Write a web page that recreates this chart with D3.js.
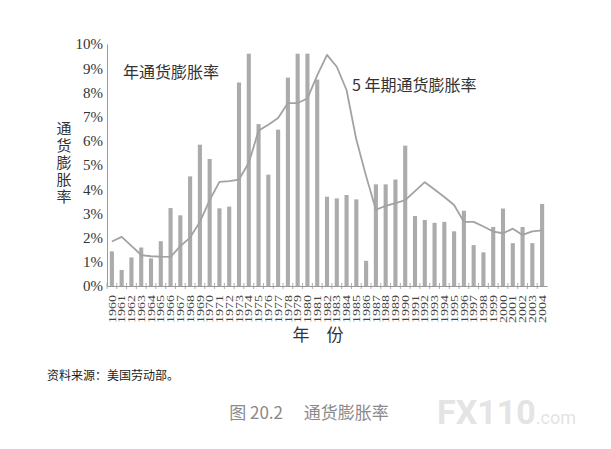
<!DOCTYPE html>
<html>
<head>
<meta charset="utf-8">
<script src="https://cdn.jsdelivr.net/npm/d3@7"></script>
<style>
  body { margin: 0; background: #fff; }
  svg { display: block; }
</style>
</head>
<body>
<svg id="chart"></svg>
<script>
var years = [1960,1961,1962,1963,1964,1965,1966,1967,1968,1969,
             1970,1971,1972,1973,1974,1975,1976,1977,1978,1979,
             1980,1981,1982,1983,1984,1985,1986,1987,1988,1989,
             1990,1991,1992,1993,1994,1995,1996,1997,1998,1999,
             2000,2001,2002,2003,2004]

// annual inflation, % (bars above ~9.6% are cut off in the picture)
var annual = [1.43,0.66,1.18,1.59,1.14,1.85,3.22,2.92,4.53,5.84,
              5.25,3.21,3.28,8.41,9.6,6.69,4.6,6.46,8.61,9.6,
              9.6,8.53,3.69,3.62,3.76,3.58,1.04,4.2,4.2,4.4,
              5.8,2.89,2.73,2.61,2.65,2.26,3.11,1.69,1.39,2.44,
              3.2,1.77,2.44,1.77,3.39]

// 5-year inflation, %
var fiveYear = [1.84,2.03,1.66,1.28,1.23,1.21,1.2,1.65,2.0,2.65,
                3.55,4.3,4.33,4.4,5.09,6.42,6.66,6.94,7.56,7.56,
                7.75,8.7,9.55,9.06,8.1,6.05,4.54,3.15,3.31,3.42,
                3.55,3.92,4.29,3.99,3.68,3.35,2.65,2.65,2.46,2.25,
                2.18,2.37,2.11,2.26,2.3]

var yTicks = [0,1,2,3,4,5,6,7,8,9,10]

var dimensions = {
    width: 611,
    height: 449,
    margin: { top: 44, bottom: 163, left: 107, right: 64 }
}

var svg = d3.select("#chart")
            .attr("width", dimensions.width)
            .attr("height", dimensions.height)

var xScale = d3.scaleBand()
               .domain(years)
               .range([dimensions.margin.left, dimensions.width - dimensions.margin.right])
               .paddingInner(0.58)
               .paddingOuter(0.29)

var yScale = d3.scaleLinear()
               .domain([0, 10])
               .range([dimensions.height - dimensions.margin.bottom, dimensions.margin.top])

var baseY = yScale(0)

// bars
svg.append("g")
   .selectAll("rect")
   .data(annual)
   .enter()
   .append("rect")
   .attr("x", (d, i) => xScale(years[i]))
   .attr("y", d => yScale(d))
   .attr("width", xScale.bandwidth())
   .attr("height", d => baseY - yScale(d))
   .attr("fill", "#ababab")

// 5-year line
var lineGen = d3.line()
                .x((d, i) => xScale(years[i]) + xScale.bandwidth() / 2)
                .y(d => yScale(d))

svg.append("path")
   .datum(fiveYear)
   .attr("d", lineGen)
   .attr("fill", "none")
   .attr("stroke", "#a2a2a2")
   .attr("stroke-width", 1.8)
   .attr("stroke-linejoin", "round")

// y axis
var yAxisGen = d3.axisLeft(yScale)
                 .tickValues(yTicks)
                 .tickSize(0)
                 .tickPadding(4)
                 .tickFormat(d => d + "%")
var yAxis = svg.append("g")
               .attr("transform", `translate(${dimensions.margin.left},0)`)
               .call(yAxisGen)
yAxis.select(".domain").attr("stroke", "#9a9a9a")
yAxis.selectAll("text")
     .attr("font-family", "Liberation Serif")
     .attr("font-size", 15)
     .attr("fill", "#333")

// x axis: line + ticks at band edges
var step = xScale.step()
var xAxisGen = d3.axisBottom(xScale)
                 .tickSize(0)
                 .tickPadding(0)
                 .tickFormat(d => d)
var xAxis = svg.append("g")
               .attr("transform", `translate(0,${baseY})`)
               .call(xAxisGen)
xAxis.select(".domain").attr("stroke", "#9a9a9a")
xAxis.selectAll("text")
     .attr("font-family", "Liberation Serif")
     .attr("font-size", 10.5)
     .attr("fill", "#444")
     .attr("text-anchor", "end")
     .attr("dy", "0.35em")
     .attr("transform", "translate(0,9) rotate(-90)")
     .attr("textLength", 28)
     .attr("lengthAdjust", "spacingAndGlyphs")

svg.append("g")
   .selectAll("line")
   .data(years)
   .enter()
   .append("line")
   .attr("x1", d => xScale(d) - step * 0.29)
   .attr("x2", d => xScale(d) - step * 0.29)
   .attr("y1", baseY - 3)
   .attr("y2", baseY + 3)
   .attr("stroke", "#9a9a9a")
   .attr("stroke-width", 0.8)

// series labels
svg.append("text")
   .attr("x", 123)
   .attr("y", 78)
   .attr("font-family", "Noto Sans CJK SC")
   .attr("font-size", 16)
   .attr("fill", "#333")
   .text("年通货膨胀率")

svg.append("text")
   .attr("x", 352)
   .attr("y", 91)
   .attr("font-family", "Noto Sans CJK SC")
   .attr("font-size", 16)
   .attr("fill", "#333")
   .text("5 年期通货膨胀率")

// y title, written vertically
svg.append("text")
   .attr("x", 64)
   .attr("y", 121)
   .style("writing-mode", "vertical-rl")
   .attr("font-family", "Noto Sans CJK SC")
   .attr("font-size", 15)
   .attr("letter-spacing", 2)
   .attr("fill", "#333")
   .text("通货膨胀率")

// x title
svg.append("text")
   .attr("x", 318)
   .attr("y", 341)
   .attr("text-anchor", "middle")
   .attr("font-family", "Noto Sans CJK SC")
   .attr("font-size", 17)
   .attr("fill", "#333")
   .text("年　份")

// source note
svg.append("text")
   .attr("x", 47)
   .attr("y", 380)
   .attr("font-family", "Noto Sans CJK SC")
   .attr("font-size", 12)
   .attr("fill", "#222")
   .text("资料来源：美国劳动部。")

// caption
svg.append("text")
   .attr("x", 309)
   .attr("y", 419)
   .attr("text-anchor", "middle")
   .attr("font-family", "Noto Sans CJK SC")
   .attr("font-size", 17)
   .attr("fill", "#8a8a8a")
   .text("图 20.2　 通货膨胀率")

// watermark
var wm = svg.append("text")
            .attr("x", 437)
            .attr("y", 424)
            .attr("font-family", "Roboto")
            .attr("font-weight", "bold")
            .attr("fill", "#e4e4e4")
wm.append("tspan").attr("font-size", 34).text("FX110")
wm.append("tspan").attr("font-size", 18).attr("font-weight", "normal").text(".com")
</script>
</body>
</html>
